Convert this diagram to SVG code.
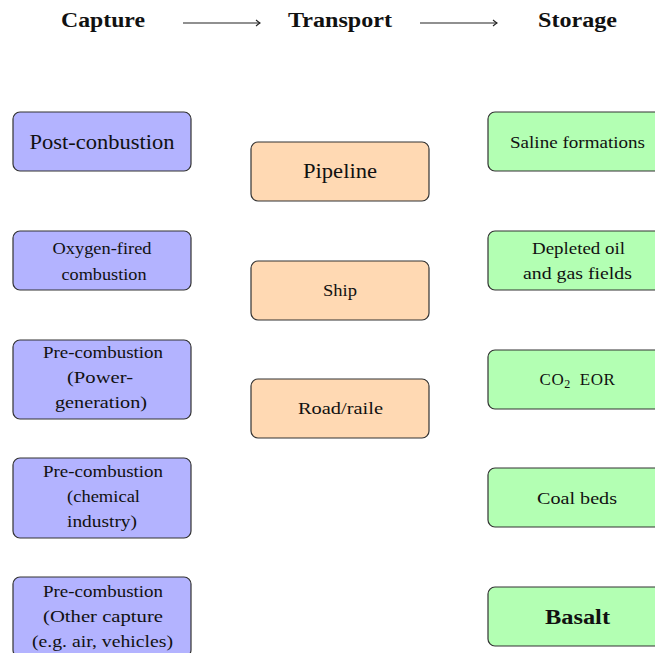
<svg xmlns="http://www.w3.org/2000/svg" width="655" height="653" viewBox="0 0 655 653">
<defs>
<style>
.cap{fill:#b3b3ff;stroke:#333;stroke-width:1.2}
.tra{fill:#ffd9b3;stroke:#333;stroke-width:1.2}
.sto{fill:#b3ffb3;stroke:#333;stroke-width:1.2}
text{font-family:"Liberation Serif","Times New Roman",serif;fill:#111;text-anchor:middle}
.s{font-size:17px}
.b{font-size:20.5px}
.h{font-size:20px;font-weight:bold}
.bb{font-size:20px;font-weight:bold}
.arr{stroke:#222;stroke-width:1.1;fill:none}
</style>
<marker id="to" viewBox="-5 -4 6 8" refX="0" refY="0" markerWidth="6" markerHeight="8" markerUnits="userSpaceOnUse" orient="auto">
<path d="M-4,-3 Q-1,-0.6 0,0 Q-1,0.6 -4,3" fill="none" stroke="#222" stroke-width="1.1"/>
</marker>
</defs>
<rect width="655" height="653" fill="#fff"/>
<g id="headers">
<text class="h" x="103" y="27" textLength="84" lengthAdjust="spacingAndGlyphs">Capture</text>
<text class="h" x="340" y="27" textLength="104" lengthAdjust="spacingAndGlyphs">Transport</text>
<text class="h" x="577.5" y="27" textLength="79" lengthAdjust="spacingAndGlyphs">Storage</text>
</g>
<g id="connectors">
<line class="arr" x1="183" y1="23" x2="260" y2="23" marker-end="url(#to)"/>
<line class="arr" x1="420" y1="23" x2="497" y2="23" marker-end="url(#to)"/>
</g>
<g id="post-combustion"><rect class="cap" x="13" y="112" width="178" height="59" rx="7"/><text class="b" x="102" y="149" textLength="145" lengthAdjust="spacingAndGlyphs">Post-conbustion</text></g>
<g id="oxygen-fired"><rect class="cap" x="13" y="231" width="178" height="59" rx="7"/><text class="s" x="102" y="254" textLength="99" lengthAdjust="spacingAndGlyphs">Oxygen-fired</text><text class="s" x="104" y="280" textLength="85" lengthAdjust="spacingAndGlyphs">combustion</text></g>
<g id="pre-power"><rect class="cap" x="13" y="340" width="178" height="79" rx="7"/><text class="s" x="103" y="358" textLength="120" lengthAdjust="spacingAndGlyphs">Pre-combustion</text><text class="s" x="100" y="383" textLength="66" lengthAdjust="spacingAndGlyphs">(Power-</text><text class="s" x="101" y="408" textLength="92" lengthAdjust="spacingAndGlyphs">generation)</text></g>
<g id="pre-chemical"><rect class="cap" x="13" y="458" width="178" height="80" rx="7"/><text class="s" x="103" y="477" textLength="120" lengthAdjust="spacingAndGlyphs">Pre-combustion</text><text class="s" x="103.5" y="502" textLength="73" lengthAdjust="spacingAndGlyphs">(chemical</text><text class="s" x="102" y="527" textLength="70" lengthAdjust="spacingAndGlyphs">industry)</text></g>
<g id="pre-other"><rect class="cap" x="13" y="577" width="178" height="80" rx="7"/><text class="s" x="103" y="597" textLength="120" lengthAdjust="spacingAndGlyphs">Pre-combustion</text><text class="s" x="103" y="622" textLength="120" lengthAdjust="spacingAndGlyphs">(Other capture</text><text class="s" x="102.5" y="647" textLength="141" lengthAdjust="spacingAndGlyphs">(e.g.  air, vehicles)</text></g>
<g id="pipeline"><rect class="tra" x="251" y="142" width="178" height="59" rx="7"/><text class="b" x="340" y="178" textLength="74" lengthAdjust="spacingAndGlyphs">Pipeline</text></g>
<g id="ship"><rect class="tra" x="251" y="261" width="178" height="59" rx="7"/><text class="s" x="340" y="296" textLength="34" lengthAdjust="spacingAndGlyphs">Ship</text></g>
<g id="road-rail"><rect class="tra" x="251" y="379" width="178" height="59" rx="7"/><text class="s" x="340.5" y="414" textLength="85" lengthAdjust="spacingAndGlyphs">Road/raile</text></g>
<g id="saline"><rect class="sto" x="488" y="112" width="178" height="59" rx="7"/><text class="s" x="577.5" y="148" textLength="135" lengthAdjust="spacingAndGlyphs">Saline formations</text></g>
<g id="depleted"><rect class="sto" x="488" y="231" width="178" height="59" rx="7"/><text class="s" x="578.5" y="254" textLength="93" lengthAdjust="spacingAndGlyphs">Depleted oil</text><text class="s" x="577.5" y="279" textLength="109" lengthAdjust="spacingAndGlyphs">and gas fields</text></g>
<g id="co2-eor"><rect class="sto" x="488" y="350" width="178" height="59" rx="7"/><text class="s" x="577.5" y="385" letter-spacing="0.6" word-spacing="4">CO<tspan font-size="12" dy="3">2</tspan><tspan dy="-3"> EOR</tspan></text></g>
<g id="coal-beds"><rect class="sto" x="488" y="468" width="178" height="59" rx="7"/><text class="s" x="577" y="504" textLength="80" lengthAdjust="spacingAndGlyphs">Coal beds</text></g>
<g id="basalt"><rect class="sto" x="488" y="587" width="178" height="59" rx="7"/><text class="bb" x="577.5" y="624" textLength="65" lengthAdjust="spacingAndGlyphs">Basalt</text></g>
</svg>
